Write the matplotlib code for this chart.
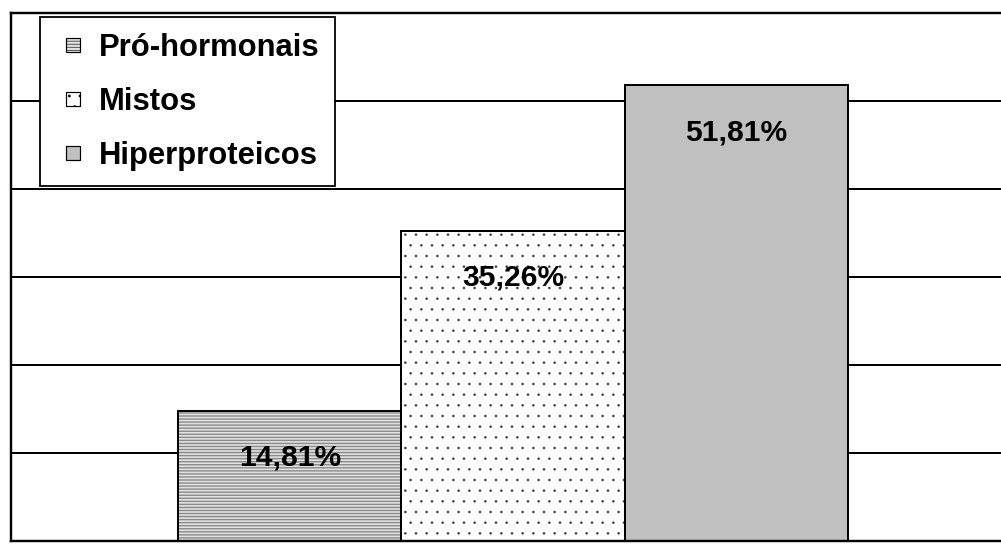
import numpy as np
import matplotlib
matplotlib.use("Agg")
import matplotlib.pyplot as plt
import matplotlib.patches as mpatches
from matplotlib.legend_handler import HandlerPatch

# data
categories = ["Pró-hormonais", "Mistos", "Hiperproteicos"]
values = [14.81, 35.26, 51.81]
value_labels = ["14,81%", "35,26%", "51,81%"]

# styles
face_colors = ["#e2e2e2", "white", "#c0c0c0"]
hatches = ["-------", "..", ""]
hatch_colors = ["#8a8a8a", "#333333", "#c0c0c0"]
hatch_widths = [1.4, 0.3, 0.5]

# hatch spacing follows dpi, so dpi is picked to get the texture density right
DPI = 128
W, H = 1001, 545
PT = 72.0 / DPI  # points per pixel

plt.rcParams["font.family"] = ["Liberation Sans", "DejaVu Sans"]
plt.rcParams["font.weight"] = "bold"
FS = 30 * PT
LFS = 31 * PT

fig = plt.figure(figsize=((W + 0.01) / DPI, (H + 0.01) / DPI), dpi=DPI)
ax = fig.add_axes([11 / W, 4 / H, 1004 / W, 528 / H])

x = np.arange(len(values))
for i in range(len(values)):
    plt.rcParams["hatch.linewidth"] = hatch_widths[i] * PT
    ax.bar(x[i], values[i], width=1.0, color=face_colors[i], edgecolor=hatch_colors[i],
           hatch=hatches[i], linewidth=0, zorder=2)
# outlines
ax.bar(x, values, width=1.0, fill=False, edgecolor="black", linewidth=2.0 * PT, zorder=3)

for xi, v, lab in zip(x, values, value_labels):
    ax.annotate(lab, (xi, v), xytext=(0, -47 * PT), textcoords="offset points",
                ha="center", va="center", fontsize=FS, fontweight="bold", zorder=4)

ax.set_xlim(-1.25, 3.25)
ax.set_ylim(0, 60)
ax.set_yticks(np.arange(0, 61, 10))
ax.set_xticks([])
ax.tick_params(length=0, labelleft=False)
ax.yaxis.grid(True, color="black", linewidth=2.0 * PT)
ax.set_axisbelow(True)
for s in ax.spines.values():
    s.set_linewidth(2.4 * PT)
    s.set_color("black")

# legend with small squares
plt.rcParams["hatch.linewidth"] = 0.6 * PT
handles = [mpatches.Patch(facecolor=face_colors[i], edgecolor="black", hatch=hatches[i],
                          linewidth=1.2 * PT) for i in range(len(categories))]


def square(legend, orig_handle, xdescent, ydescent, width, height, fontsize):
    s = 14 * PT
    return mpatches.Rectangle((-xdescent + width / 2 - s / 2, -ydescent + height / 2 - s / 2), s, s)


leg = ax.legend(handles, categories, loc="upper left",
                bbox_to_anchor=(29 / 1004, 1 - 4 / 528), borderaxespad=0,
                prop={"weight": "bold", "size": LFS},
                handlelength=1.15, handletextpad=0.25, borderpad=0.5, labelspacing=0.78,
                fancybox=False, framealpha=1, edgecolor="black",
                handler_map={mpatches.Patch: HandlerPatch(patch_func=square)})
leg.get_frame().set_linewidth(1.8 * PT)

fig.savefig("out.png", dpi=DPI)
